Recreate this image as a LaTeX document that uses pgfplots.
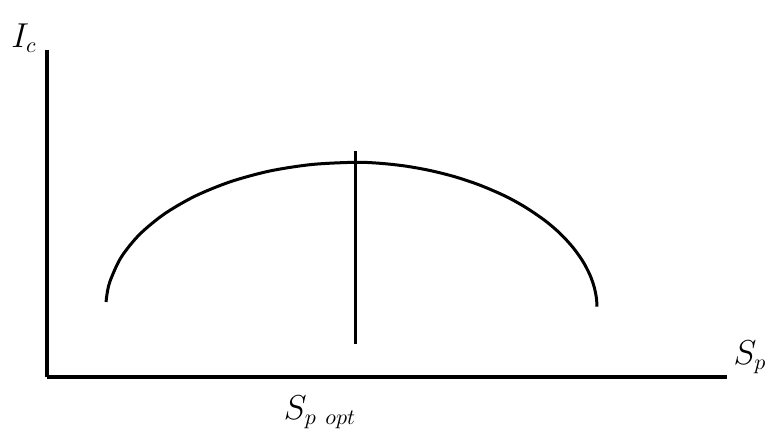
\documentclass[border=0pt]{standalone}
\usepackage{pgfplots}
\pgfplotsset{compat=1.18}

\begin{document}
\begin{tikzpicture}
% 1 px of the reference = 0.5pt, origin at the axis corner
\path[use as bounding box] (-23.5pt,-26.5pt) rectangle (360pt,188.5pt);
\begin{axis}[
    at={(0,0)}, anchor=south west,
    scale only axis,
    width=340pt, height=163.5pt,
    xmin=0, xmax=680, ymin=0, ymax=327,
    axis lines=left,
    axis line style={-, line width=1.7pt},
    ticks=none,
    clip=false,
]
\addplot[black, line width=1.5pt, smooth, tension=0.5] coordinates {
  (59.2,75) (59.6,80.1) (62.8,95.1) (74.0,119.5) (92.4,142.4) (117.3,163.0)
  (147.9,180.8) (183.5,195.3) (222.8,206.0) (264.8,212.5) (308,214.7)
  (333,213.7) (358,211.0) (383,206.5) (408,200.2) (433,191.8) (458,181.0)
  (478,170.0) (498,156.4) (513,143.6) (526,129.5) (536,115.4) (543,101.9)
  (547,90.6) (549,81.6) (549.7,76.2) (550,70.3)
};
\addplot[black, line width=1.5pt] coordinates {(308,33) (308,226)};
\node[font=\fontsize{16}{19}\selectfont] at (axis cs:-23,339) {$I_c$};
\node[font=\fontsize{16}{19}\selectfont] at (axis cs:703,20) {$S_p$};
\node[font=\fontsize{16}{19}\selectfont] at (axis cs:273,-35) {$S_{p\ opt}$};
\end{axis}
\end{tikzpicture}
\end{document}
